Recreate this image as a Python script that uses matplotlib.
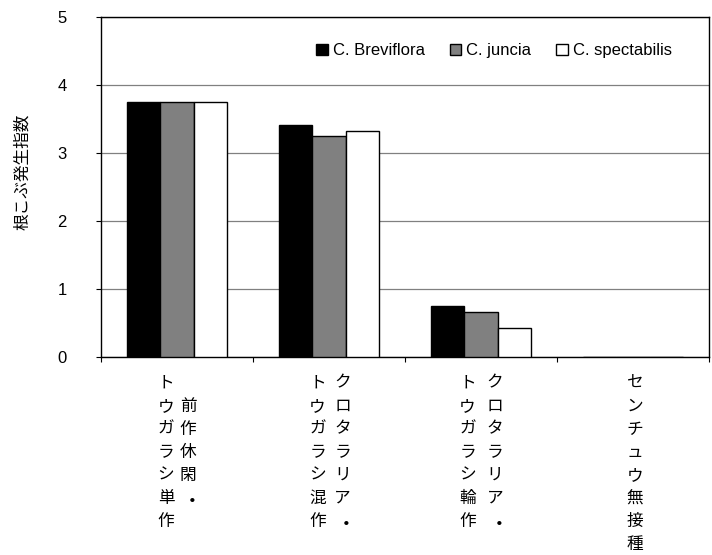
import matplotlib
matplotlib.use("Agg")
import matplotlib.pyplot as plt
from matplotlib.patches import Patch
from matplotlib.transforms import blended_transform_factory, offset_copy

# ---- data -------------------------------------------------------------
series_names = ["C. Breviflora", "C. juncia", "C. spectabilis"]
breviflora = [3.75, 3.42, 0.75, 0.0]
juncia = [3.75, 3.25, 0.66, 0.0]
spectabilis = [3.75, 3.33, 0.42, 0.0]

# vertical category labels, written as columns (left column first);
# a leading full-width space pushes a column down by one row
category_columns = [
    ["トウガラシ単作", "　前作休閑・"],
    ["トウガラシ混作", "クロタラリア・"],
    ["トウガラシ輪作", "クロタラリア・"],
    ["センチュウ無接種"],
]
y_label = "根こぶ発生指数"
y_ticks = [0, 1, 2, 3, 4, 5]

# ---- styling ----------------------------------------------------------
LATIN = "Liberation Sans"
CJK = ["Noto Sans CJK JP", "DejaVu Sans"]
fill_colors = ["#000000", "#808080", "#ffffff"]
bar_w = 0.22
# horizontal offsets (pixels) of each label column from the category centre
column_dx = [(-11, 11), (-11.5, 13.5), (-13.5, 14), (2,)]
row_top = 26.5     # pixels below the x axis to the first character centre
row_step = 23.0    # pixels between stacked characters

W, H, DPI = 712, 555, 100
fig = plt.figure(figsize=(W / DPI, H / DPI), dpi=DPI)
ax_left, ax_right, ax_top, ax_bottom = 101, 709, 17.3, 356.7
ax = fig.add_axes([ax_left / W, 1 - ax_bottom / H,
                   (ax_right - ax_left) / W, (ax_bottom - ax_top) / H])

n = len(category_columns)
xs = list(range(n))
for k, (vals, col) in enumerate(zip([breviflora, juncia, spectabilis], fill_colors)):
    off = (k - 1) * bar_w
    ax.bar([x + off for x in xs], vals, width=bar_w, color=col,
           edgecolor="black", linewidth=1.0, zorder=3)

ax.set_xlim(-0.5, n - 0.5)
ax.set_ylim(0, 5)
ax.set_yticks(y_ticks)
ax.set_yticklabels([str(t) for t in y_ticks], fontfamily=LATIN, fontsize=12)
ax.set_xticks([i - 0.5 for i in range(n + 1)])
ax.set_xticklabels([])
ax.tick_params(axis="y", direction="out", length=3.6, width=0.8, pad=21)
ax.tick_params(axis="x", direction="out", length=3.6, width=0.8)
ax.yaxis.grid(True, color="#808080", linewidth=0.9, zorder=0)
ax.set_axisbelow(True)
for sp in ax.spines.values():
    sp.set_color("black")
    sp.set_linewidth(1.0)

# stacked vertical category labels
base = blended_transform_factory(ax.transData, ax.transAxes)
for i, cols in enumerate(category_columns):
    for c, text in enumerate(cols):
        for r, ch in enumerate(text):
            if ch == "　":
                continue
            is_dot = ch == "・"
            tr = offset_copy(base, fig=fig, x=column_dx[i][c] + (4 if is_dot else 0),
                             y=-(row_top + r * row_step + (3 if is_dot else 0)),
                             units="dots")
            ax.text(i, 0, ch, transform=tr, ha="center", va="center",
                    fontsize=12, family=CJK, clip_on=False,
                    fontweight="bold" if is_dot else "normal")

# y axis title
fig.text(23 / W, 1 - 172 / H, y_label, rotation=90, ha="center", va="center",
         fontsize=12, family=CJK)

# legend
handles = [Patch(facecolor=c, edgecolor="black", linewidth=1.0) for c in fill_colors]
ax.legend(handles, series_names, ncol=3, loc="center",
          bbox_to_anchor=(494 / W, 1 - 50.7 / H), bbox_transform=fig.transFigure,
          frameon=False, handlelength=0.7, handleheight=0.7, handletextpad=0.3,
          columnspacing=1.5, borderpad=0, borderaxespad=0,
          prop={"family": LATIN, "size": 12})

fig.savefig("out.png", dpi=DPI)
